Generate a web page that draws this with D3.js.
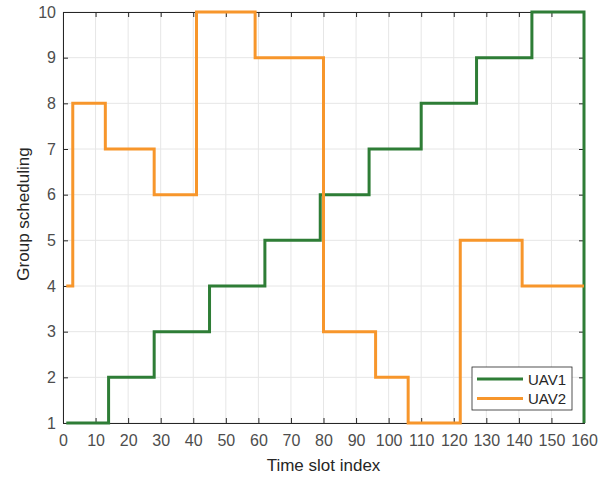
<!DOCTYPE html>
<html>

<head>
<script src="https://d3js.org/d3.v7.min.js"></script>
<style>
  body { margin: 0; background: #fff; }
  text { font-family: "Liberation Sans", Arial, sans-serif; }
</style>
</head>

<body>
  <script>
    // step start points (x) and group index held from that point on
    var uav1X = [1, 14, 28, 45, 62, 79, 94, 110, 127, 144, 160];
    var uav1Y = [1, 2, 3, 4, 5, 6, 7, 8, 9, 10, 1];
    var uav2X = [1, 3, 13, 28, 41, 59, 80, 96, 106, 122, 141, 160];
    var uav2Y = [4, 8, 7, 6, 10, 9, 3, 2, 1, 5, 4, 4];
    var seriesNames = ["UAV1", "UAV2"];
    var xTicks = d3.range(0, 161, 10);
    var yTicks = d3.range(1, 11, 1);

    var width = 613,
      height = 477;

    var margin = {
      top: 12,
      right: 29,
      bottom: 54,
      left: 63
    };

    var colors = ["#2e7d36", "#f7962b"];

    var x = d3.scaleLinear().domain([0, 160]).range([margin.left, width - margin.right]);
    var y = d3.scaleLinear().domain([1, 10]).range([height - margin.bottom, margin.top]);

    var svg = d3.select("body").append("svg")
      .attr("width", width)
      .attr("height", height);

    // grid
    svg.append("g")
      .selectAll("line")
      .data(xTicks)
      .enter().append("line")
      .attr("x1", d => x(d)).attr("x2", d => x(d))
      .attr("y1", y(1)).attr("y2", y(10))
      .attr("stroke", "#e6e6e6").attr("stroke-width", 1);

    svg.append("g")
      .selectAll("line")
      .data(yTicks)
      .enter().append("line")
      .attr("y1", d => y(d)).attr("y2", d => y(d))
      .attr("x1", x(0)).attr("x2", x(160))
      .attr("stroke", "#e6e6e6").attr("stroke-width", 1);

    // axes (box with ticks on all four sides)
    var xAxis = svg.append("g")
      .attr("transform", "translate(0," + y(1) + ")")
      .call(d3.axisBottom(x).tickValues(xTicks).tickSize(-5).tickPadding(12));
    var xTop = svg.append("g")
      .attr("transform", "translate(0," + y(10) + ")")
      .call(d3.axisTop(x).tickValues(xTicks).tickSize(-5).tickFormat(""));
    var yAxis = svg.append("g")
      .attr("transform", "translate(" + x(0) + ",0)")
      .call(d3.axisLeft(y).tickValues(yTicks).tickSize(-5).tickPadding(7));
    var yRight = svg.append("g")
      .attr("transform", "translate(" + x(160) + ",0)")
      .call(d3.axisRight(y).tickValues(yTicks).tickSize(-5).tickFormat(""));

    [xAxis, xTop, yAxis, yRight].forEach(function(g) {
      g.attr("font-size", null).attr("font-family", null);
      g.select(".domain").attr("stroke", "#262626");
      g.selectAll(".tick line").attr("stroke", "#262626");
      g.selectAll(".tick text")
        .attr("fill", "#4d4d4d")
        .style("font-size", "16px");
    });

    // lines
    var line = d3.line()
      .x(d => x(d[0]))
      .y(d => y(d[1]))
      .curve(d3.curveStepAfter);

    var series = [d3.zip(uav1X, uav1Y), d3.zip(uav2X, uav2Y)];

    svg.selectAll("path.series")
      .data(series)
      .enter().append("path")
      .attr("class", "series")
      .attr("d", line)
      .attr("fill", "none")
      .attr("stroke", (d, i) => colors[i])
      .attr("stroke-width", 3);

    // labels
    svg.append("text")
      .attr("x", (x(0) + x(160)) / 2)
      .attr("y", 471)
      .attr("text-anchor", "middle")
      .attr("fill", "#262626")
      .style("font-size", "17px")
      .text("Time slot index");

    svg.append("text")
      .attr("transform", "translate(29,214) rotate(-90)")
      .attr("text-anchor", "middle")
      .attr("fill", "#262626")
      .style("font-size", "17px")
      .text("Group scheduling");

    // legend
    var legend = svg.append("g").attr("transform", "translate(472,367)");
    legend.append("rect")
      .attr("width", 100).attr("height", 43)
      .attr("fill", "#fff")
      .attr("stroke", "#262626").attr("stroke-width", 0.8);

    var item = legend.selectAll("g.item")
      .data(seriesNames)
      .enter().append("g")
      .attr("transform", (d, i) => "translate(0," + (12 + i * 19.5) + ")");
    item.append("line")
      .attr("x1", 5).attr("x2", 51)
      .attr("stroke", (d, i) => colors[i])
      .attr("stroke-width", 3);
    item.append("text")
      .attr("x", 56).attr("y", 5.5)
      .attr("fill", "#262626")
      .style("font-size", "15px")
      .text(d => d);
  </script>
</body>

</html>
